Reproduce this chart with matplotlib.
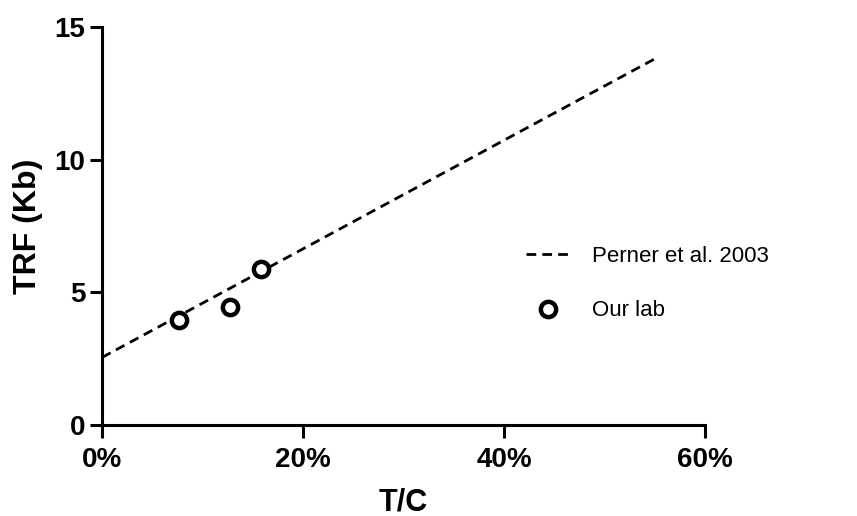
import matplotlib
matplotlib.use("Agg")
import matplotlib.pyplot as plt
from matplotlib.ticker import FuncFormatter

plt.rcParams['font.family'] = ['Liberation Sans', 'DejaVu Sans']

line_x = [0.0, 0.55]
line_y = [2.55, 13.8]
lab_x = [0.077, 0.127, 0.158]
lab_y = [3.96, 4.45, 5.89]
xticks = [0, 0.2, 0.4, 0.6]
yticks = [0, 5, 10, 15]

fig = plt.figure(figsize=(8.57, 5.16), dpi=100)
ax = fig.add_axes([0.119, 0.176, 0.704, 0.772])

ax.plot(line_x, line_y, color='black', lw=2.0, dashes=(3.5, 2.2), label='Perner et al. 2003')
ax.plot(lab_x, lab_y, linestyle='none', marker='o', markersize=11, markerfacecolor='white',
        markeredgecolor='black', markeredgewidth=3.2, label='Our lab')

ax.set_xlim(0, 0.6)
ax.set_ylim(0, 15)
ax.set_xticks(xticks)
ax.set_yticks(yticks)
ax.xaxis.set_major_formatter(FuncFormatter(lambda v, p: f"{v*100:.0f}%"))
for s in ['top', 'right']:
    ax.spines[s].set_visible(False)
for s in ['left', 'bottom']:
    ax.spines[s].set_linewidth(2.2)
ax.tick_params(width=2.2, length=9, labelsize=20)
ax.tick_params(axis='x', pad=7)
ax.tick_params(axis='y', pad=3)
for lbl in ax.get_xticklabels() + ax.get_yticklabels():
    lbl.set_fontweight('bold')
ax.set_xlabel('T/C', fontsize=22, fontweight='bold', labelpad=10)
ax.set_ylabel('TRF (Kb)', fontsize=23, fontweight='bold', labelpad=8)

leg = ax.legend(loc='center left', bbox_to_anchor=(0.669, 0.355), frameon=False, fontsize=16,
                handlelength=2.0, handletextpad=1.0, labelspacing=1.5)

fig.savefig('out.png', dpi=100)
